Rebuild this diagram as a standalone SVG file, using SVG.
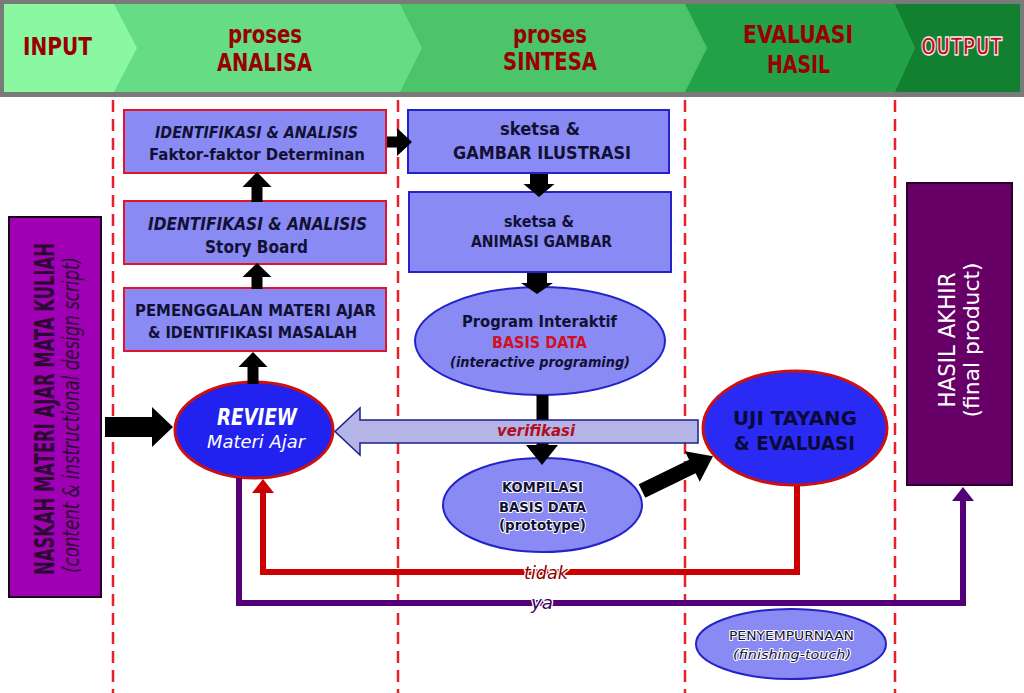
<svg xmlns="http://www.w3.org/2000/svg" width="1024" height="693" viewBox="0 0 1024 693">
<style>
text{font-family:"DejaVu Sans","Liberation Sans",sans-serif;text-anchor:middle}
.hd{font-size:24px;fill:#990000;font-weight:bold}
.nt{fill:#111133;font-weight:bold}
.it{font-style:italic}
.box{fill:#8A8AF5;stroke-width:2}
.rb{stroke:#E0142A}
.bb{stroke:#2323C8}
.ell{fill:#8A8AF5;stroke:#2323C8;stroke-width:2}
.blk{fill:#000}
.dash{stroke:#E8202A;stroke-width:2.5;stroke-dasharray:12 7;fill:none}
.halo{paint-order:stroke;stroke:#fff;stroke-width:2.5;stroke-linejoin:round}
</style>
<!-- header -->
<g id="header">
<rect x="0" y="0" width="1024" height="97" fill="#7a7a7a"/>
<rect x="895" y="4" width="125" height="88" fill="#118030"/>
<polygon points="4,4 895,4 915,48 895,92 4,92" fill="#24A24A"/>
<polygon points="4,4 685,4 707,48 685,92 4,92" fill="#4CC46A"/>
<polygon points="4,4 400,4 422,48 400,92 4,92" fill="#66DC84"/>
<polygon points="4,4 114,4 137,48 114,92 4,92" fill="#8AF8A0"/>
<text class="hd" x="57.5" y="55" textLength="69" lengthAdjust="spacingAndGlyphs">INPUT</text>
<text class="hd" x="265" y="43" textLength="74" lengthAdjust="spacingAndGlyphs">proses</text>
<text class="hd" x="264.5" y="71" textLength="95" lengthAdjust="spacingAndGlyphs">ANALISA</text>
<text class="hd" x="550" y="43" textLength="74" lengthAdjust="spacingAndGlyphs">proses</text>
<text class="hd" x="550" y="70" textLength="94" lengthAdjust="spacingAndGlyphs">SINTESA</text>
<text class="hd" x="798" y="43" textLength="110" lengthAdjust="spacingAndGlyphs">EVALUASI</text>
<text class="hd" x="798.5" y="73" textLength="63" lengthAdjust="spacingAndGlyphs">HASIL</text>
<text class="hd" x="961.5" y="55" textLength="81" lengthAdjust="spacingAndGlyphs" style="fill:#B81020;stroke:#FFE6E6;stroke-width:1.4;stroke-linejoin:round">OUTPUT</text>
</g>
<!-- dashed lane lines -->
<g id="lanes">
<line class="dash" x1="113" y1="100" x2="113" y2="693"/>
<line class="dash" x1="398" y1="100" x2="398" y2="693"/>
<line class="dash" x1="685" y1="100" x2="685" y2="693"/>
<line class="dash" x1="895" y1="100" x2="895" y2="693"/>
</g>
<!-- nodes -->
<g id="naskah">
<rect x="9" y="217" width="92" height="380" fill="#A000B4" stroke="#1a001a" stroke-width="2"/>
<text transform="translate(54,409) rotate(-90)" class="nt" style="font-size:27px;fill:#2A0830" textLength="332" lengthAdjust="spacingAndGlyphs">NASKAH MATERI AJAR MATA KULIAH</text>
<text transform="translate(79,415) rotate(-90)" class="it" style="font-size:23px;fill:#2A0830" textLength="316" lengthAdjust="spacingAndGlyphs">(content &amp; instructional design script)</text>
</g>
<g id="faktor">
<rect class="box rb" x="124" y="110" width="262" height="63"/>
<text class="nt it" x="256.5" y="138" style="font-size:16px" textLength="203" lengthAdjust="spacingAndGlyphs">IDENTIFIKASI &amp; ANALISIS</text>
<text class="nt" x="257" y="160" style="font-size:16px" textLength="216" lengthAdjust="spacingAndGlyphs">Faktor-faktor Determinan</text>
</g>
<g id="storyboard">
<rect class="box rb" x="124" y="201" width="262" height="63"/>
<text class="nt it" x="257.5" y="230" style="font-size:17px" textLength="219" lengthAdjust="spacingAndGlyphs">IDENTIFIKASI &amp; ANALISIS</text>
<text class="nt" x="256.5" y="253" style="font-size:18px" textLength="103" lengthAdjust="spacingAndGlyphs">Story Board</text>
</g>
<g id="pemenggalan">
<rect class="box rb" x="124" y="288" width="262" height="63"/>
<text class="nt" x="255.5" y="316" style="font-size:16px" textLength="241" lengthAdjust="spacingAndGlyphs">PEMENGGALAN MATERI AJAR</text>
<text class="nt" x="252.5" y="338" style="font-size:16px" textLength="209" lengthAdjust="spacingAndGlyphs">&amp; IDENTIFIKASI MASALAH</text>
</g>
<g id="review">
<ellipse cx="254" cy="430" rx="79" ry="48" fill="#2222F0" stroke="#CC1010" stroke-width="3"/>
<text class="it" x="257" y="425" style="font-size:23px;font-weight:bold;fill:#fff" textLength="80" lengthAdjust="spacingAndGlyphs">REVIEW</text>
<text class="it" x="256" y="448" style="font-size:17px;fill:#fff" textLength="98" lengthAdjust="spacingAndGlyphs">Materi Ajar</text>
</g>
<g id="gambar">
<rect class="box bb" x="408" y="110" width="261" height="63"/>
<text class="nt" x="540" y="135" style="font-size:18px" textLength="80" lengthAdjust="spacingAndGlyphs">sketsa &amp;</text>
<text class="nt" x="542" y="159" style="font-size:18px" textLength="178" lengthAdjust="spacingAndGlyphs">GAMBAR ILUSTRASI</text>
</g>
<g id="animasi">
<rect class="box bb" x="409" y="192" width="262" height="80"/>
<text class="nt" x="539" y="227" style="font-size:16px" textLength="70" lengthAdjust="spacingAndGlyphs">sketsa &amp;</text>
<text class="nt" x="541.5" y="247" style="font-size:16px" textLength="141" lengthAdjust="spacingAndGlyphs">ANIMASI GAMBAR</text>
</g>
<g id="program">
<ellipse class="ell" cx="540" cy="341" rx="125" ry="54"/>
<text class="nt" x="539.5" y="327" style="font-size:16px" textLength="155" lengthAdjust="spacingAndGlyphs">Program Interaktif</text>
<text x="539.5" y="348" style="font-size:16px;font-weight:bold;fill:#D01020" textLength="95" lengthAdjust="spacingAndGlyphs">BASIS DATA</text>
<text class="nt it" x="540" y="367" style="font-size:14px" textLength="180" lengthAdjust="spacingAndGlyphs">(interactive programing)</text>
</g>
<g id="kompilasi">
<ellipse class="ell" cx="542.5" cy="505" rx="99.5" ry="47"/>
<text class="halo" x="542.5" y="492" style="font-size:14px;fill:#111133;stroke-width:2;font-weight:bold" textLength="81" lengthAdjust="spacingAndGlyphs">KOMPILASI</text>
<text class="halo" x="542.5" y="512" style="font-size:14px;fill:#111133;stroke-width:2;font-weight:bold" textLength="87" lengthAdjust="spacingAndGlyphs">BASIS DATA</text>
<text class="halo" x="542.5" y="530" style="font-size:14px;fill:#111133;stroke-width:2;font-weight:bold" textLength="87" lengthAdjust="spacingAndGlyphs">(prototype)</text>
</g>
<g id="ujitayang">
<ellipse cx="795" cy="428" rx="92" ry="57" fill="#2A2AF5" stroke="#CC1010" stroke-width="3"/>
<text x="795" y="425" style="font-size:20px;font-weight:bold;fill:#0A0A3A" textLength="124" lengthAdjust="spacingAndGlyphs">UJI TAYANG</text>
<text x="794.5" y="450" style="font-size:20px;font-weight:bold;fill:#0A0A3A" textLength="121" lengthAdjust="spacingAndGlyphs">&amp; EVALUASI</text>
</g>
<g id="hasilakhir">
<rect x="907" y="183" width="105" height="302" fill="#660066" stroke="#2a002a" stroke-width="2"/>
<text transform="translate(955,340) rotate(-90)" style="font-size:23px;fill:#fff" textLength="135" lengthAdjust="spacingAndGlyphs">HASIL AKHIR</text>
<text transform="translate(979,340) rotate(-90)" style="font-size:22px;fill:#fff" textLength="155" lengthAdjust="spacingAndGlyphs">(final product)</text>
</g>
<g id="penyempurnaan">
<ellipse class="ell" cx="791" cy="644" rx="95" ry="35"/>
<text class="halo" x="791.5" y="640" style="font-size:13px;fill:#111133;stroke-width:2" textLength="125" lengthAdjust="spacingAndGlyphs">PENYEMPURNAAN</text>
<text class="halo it" x="792" y="659" style="font-size:13px;fill:#111133;stroke-width:2" textLength="118" lengthAdjust="spacingAndGlyphs">(finishing-touch)</text>
</g>
<!-- connectors -->
<g id="connectors">
<path d="M239 478 V603 H963 V500" fill="none" stroke="#560078" stroke-width="6"/>
<polygon points="952,501 974,501 963,487" fill="#560078"/>
<path d="M797 486 V572 H263 V492" fill="none" stroke="#CC0000" stroke-width="6"/>
<polygon points="252,493 274,493 263,479" fill="#CC0000"/>
<polygon class="blk" points="251.5,202 251.5,187 242.5,187 257,172 271.5,187 262.5,187 262.5,202"/>
<polygon class="blk" points="251.5,289 251.5,277 242.5,277 257,263 271.5,277 262.5,277 262.5,289"/>
<polygon class="blk" points="247.5,384 247.5,367 238.5,367 253,352 267.5,367 258.5,367 258.5,384"/>
<polygon class="blk" points="387,136.5 397,136.5 397,128 412,142 397,156 397,147.5 387,147.5"/>
<polygon class="blk" points="530,174 548,174 548,184 554.5,184 539,197 523.5,184 530,184"/>
<polygon class="blk" points="527,273 547,273 547,283 553,283 537,294 521,283 527,283"/>
<polygon class="blk" points="536.5,395 548.5,395 548.5,445 558,445 542,465 526,445 536.5,445"/>
<polygon class="blk" points="105,417 152,417 152,407 173,427 152,447 152,437 105,437"/>
<polygon class="blk" transform="translate(642,491) rotate(-26)" points="0,-7.5 56,-7.5 56,-17 79,0 56,17 56,7.5 0,7.5"/>
<polygon points="698,420 360,420 360,408 335,431.5 360,455 360,443 698,443" fill="#B4B4E6" stroke="#1E1E8C" stroke-width="1.5"/>
<text class="it" x="536" y="436" style="font-size:16px;font-weight:bold;fill:#B0101E" textLength="78" lengthAdjust="spacingAndGlyphs">verifikasi</text>
<text class="it halo" x="546" y="579" style="font-size:17px;fill:#8B0000" textLength="44" lengthAdjust="spacingAndGlyphs">tidak</text>
<text class="it halo" x="542" y="609" style="font-size:17px;fill:#3A0060" textLength="22" lengthAdjust="spacingAndGlyphs">ya</text>
</g>
</svg>
